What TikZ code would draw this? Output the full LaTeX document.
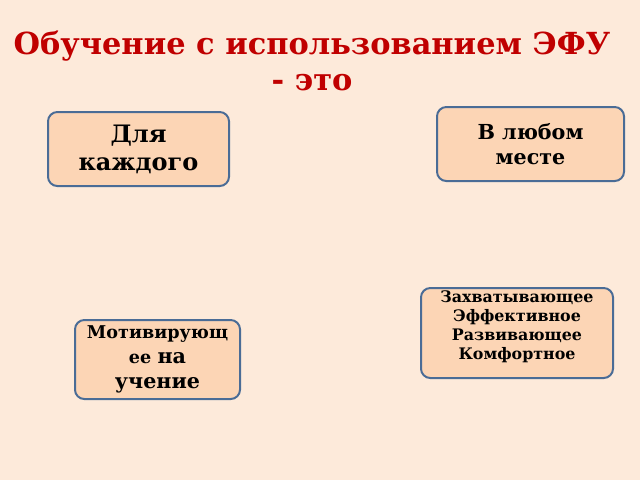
\documentclass[tikz,border=0pt]{standalone}
\usepackage{fontspec}
\setmainfont{DejaVu Serif}
\definecolor{pagebg}{HTML}{FDEADA}
\definecolor{cardfill}{HTML}{FCD5B5}
\definecolor{cardline}{HTML}{4A6C96}
\definecolor{titlered}{HTML}{C00000}
\tikzset{
  card/.style={draw=cardline, fill=cardfill, line width=1.5pt, rounded corners=7pt,
    align=center, inner sep=0pt, font=\bfseries},
}
\begin{document}
\begin{tikzpicture}[x=0.75pt, y=-0.75pt]
  \fill[pagebg] (0,0) rectangle (640,480);
  \useasboundingbox (0,0) rectangle (640,480);

  % title
  \node[text=titlered, align=center, font=\fontsize{22.8}{27}\selectfont\bfseries] (title) at (312,61)
    {Обучение с использованием ЭФУ\\- это};

  % cards
  \node[card, minimum width=135.75pt, minimum height=55.5pt, font=\fontsize{18}{21}\selectfont\bfseries]
    (forall) at (138.5,149) {Для\\каждого};
  \node[card, minimum width=140.25pt, minimum height=55.5pt, font=\fontsize{15.5}{18.75}\selectfont\bfseries]
    (anywhere) at (530.5,144) {В любом\\месте};
  \node[card, minimum width=144pt, minimum height=67.5pt] (qualities) at (517,333)
    {\parbox[c][64pt][t]{144pt}{\centering\fontsize{11.9}{14.25}\selectfont\bfseries
      Захватывающее\\Эффективное\\Развивающее\\Комфортное}};
  \node[card, minimum width=123.75pt, minimum height=59.25pt, font=\fontsize{13.2}{18.75}\selectfont\bfseries]
    (motive) at (157.5,359.5) {Мотивирующ\\ее {\fontsize{15.5}{18.75}\selectfont на}\\{\fontsize{15.5}{18.75}\selectfont учение}};
\end{tikzpicture}
\end{document}
